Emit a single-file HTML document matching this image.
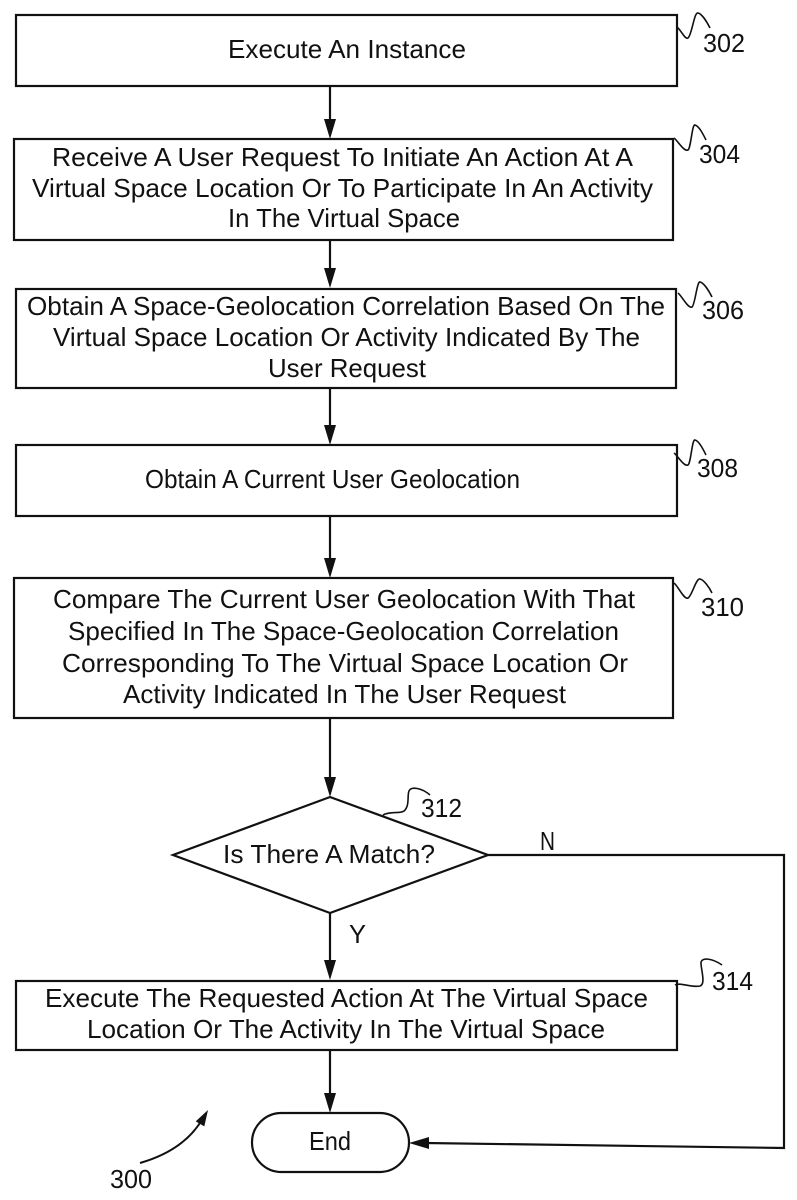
<!DOCTYPE html>
<html>
<head>
<meta charset="utf-8">
<style>
  html, body { margin: 0; padding: 0; background: #fff; }
  svg { display: block; }
  text { font-family: "Liberation Sans", Arial, sans-serif; fill: #111; }
</style>
</head>
<body>
<svg width="797" height="1200" viewBox="0 0 797 1200" xmlns="http://www.w3.org/2000/svg">
  <rect x="0" y="0" width="797" height="1200" fill="#fff"/>
  <g fill="none" stroke="#111" stroke-width="2.2">
    <!-- boxes -->
    <rect x="16" y="15" width="661" height="71"/>
    <rect x="14" y="139" width="659" height="101"/>
    <rect x="16" y="289" width="660" height="99"/>
    <rect x="16" y="445" width="661" height="71"/>
    <rect x="14" y="578" width="659" height="140"/>
    <rect x="16" y="981" width="661" height="69"/>
    <!-- diamond -->
    <polygon points="330,797 488,855 330,913 173,855"/>
    <!-- end terminal -->
    <rect x="252" y="1113" width="157" height="59" rx="29.5" ry="29.5"/>
    <!-- vertical connectors -->
    <line x1="330" y1="86" x2="330" y2="125"/>
    <line x1="330" y1="240" x2="330" y2="274"/>
    <line x1="330" y1="388" x2="330" y2="431"/>
    <line x1="330" y1="516" x2="330" y2="564"/>
    <line x1="330" y1="718" x2="330" y2="783"/>
    <line x1="330" y1="913" x2="330" y2="966"/>
    <line x1="330" y1="1050" x2="330" y2="1099"/>
    <!-- N branch -->
    <polyline points="488,855 784,855 784,1148 425,1143"/>
    <!-- 300 curved arrow -->
    <path d="M140 1163 Q 185 1150 203 1118" stroke-width="2"/>
  </g>
  <g fill="#111" stroke="none">
    <polygon points="324,119 336,119 330,139"/>
    <polygon points="324,268 336,268 330,288"/>
    <polygon points="324,425 336,425 330,445"/>
    <polygon points="324,558 336,558 330,578"/>
    <polygon points="324,777 336,777 330,797"/>
    <polygon points="324,960 336,960 330,980"/>
    <polygon points="324,1093 336,1093 330,1113"/>
    <polygon points="429,1137 429,1149 409,1143"/>
    <polygon points="208,1110 204.3,1126.4 195.7,1121.4"/>
  </g>
  <!-- squiggles -->
  <g fill="none" stroke="#111" stroke-width="1.6">
    <path d="M677 27 C681 30, 685 40, 688 38 C692 35, 694 12, 698 13 C702 14, 707 22, 710 28"/>
    <path d="M674 138 C678 141, 684 152, 688 150 C691 148, 692 124, 695 125 C699 126, 703 134, 706 140"/>
    <path d="M678 293 C682 296, 688 309, 692 307 C695 305, 697 281, 700 282 C704 283, 709 291, 712 297"/>
    <path d="M674 453 C678 456, 684 467, 688 465 C691 463, 692 439, 695 440 C699 441, 703 449, 706 455"/>
    <path d="M674 583 C678 586, 684 600, 688 598 C692 596, 696 578, 700 579 C704 580, 709 587, 712 593"/>
    <path d="M383 815 C390 811, 400 814, 404 811 C410 806, 407 795, 409 791 C411 786, 422 788, 430 795"/>
    <path d="M675 985 C680 982, 692 988, 700 986 C706 984, 701 970, 701 963 C701 957, 712 958, 722 965"/>
  </g>
  <!-- texts -->
  <g font-size="26">
    <text x="228" y="58" textLength="238" lengthAdjust="spacingAndGlyphs">Execute An Instance</text>

    <text x="52" y="166" textLength="581" lengthAdjust="spacingAndGlyphs">Receive A User Request To Initiate An Action At A</text>
    <text x="32" y="197" textLength="621" lengthAdjust="spacingAndGlyphs">Virtual Space Location Or To Participate In An Activity</text>
    <text x="228" y="227" textLength="232" lengthAdjust="spacingAndGlyphs">In The Virtual Space</text>

    <text x="27" y="315" textLength="638" lengthAdjust="spacingAndGlyphs">Obtain A Space-Geolocation Correlation Based On The</text>
    <text x="53" y="346" textLength="587" lengthAdjust="spacingAndGlyphs">Virtual Space Location Or Activity Indicated By The</text>
    <text x="268" y="377" textLength="158" lengthAdjust="spacingAndGlyphs">User Request</text>

    <text x="145" y="488" textLength="375" lengthAdjust="spacingAndGlyphs">Obtain A Current User Geolocation</text>

    <text x="53" y="608" textLength="582" lengthAdjust="spacingAndGlyphs">Compare The Current User Geolocation With That</text>
    <text x="68" y="640" textLength="551" lengthAdjust="spacingAndGlyphs">Specified In The Space-Geolocation Correlation</text>
    <text x="62" y="672" textLength="566" lengthAdjust="spacingAndGlyphs">Corresponding To The Virtual Space Location Or</text>
    <text x="123" y="703" textLength="443" lengthAdjust="spacingAndGlyphs">Activity Indicated In The User Request</text>

    <text x="223" y="863" textLength="212" lengthAdjust="spacingAndGlyphs">Is There A Match?</text>

    <text x="45" y="1007" textLength="603" lengthAdjust="spacingAndGlyphs">Execute The Requested Action At The Virtual Space</text>
    <text x="87" y="1038" textLength="518" lengthAdjust="spacingAndGlyphs">Location Or The Activity In The Virtual Space</text>

    <text x="309" y="1150" textLength="42" lengthAdjust="spacingAndGlyphs">End</text>

    <text x="540" y="850" textLength="15" lengthAdjust="spacingAndGlyphs">N</text>
    <text x="349" y="943" textLength="17" lengthAdjust="spacingAndGlyphs">Y</text>

    <text x="703" y="52" textLength="42" lengthAdjust="spacingAndGlyphs">302</text>
    <text x="699" y="163" textLength="41" lengthAdjust="spacingAndGlyphs">304</text>
    <text x="702" y="319" textLength="42" lengthAdjust="spacingAndGlyphs">306</text>
    <text x="697" y="477" textLength="41" lengthAdjust="spacingAndGlyphs">308</text>
    <text x="701" y="616" textLength="43" lengthAdjust="spacingAndGlyphs">310</text>
    <text x="421" y="817" textLength="41" lengthAdjust="spacingAndGlyphs">312</text>
    <text x="712" y="990" textLength="41" lengthAdjust="spacingAndGlyphs">314</text>
    <text x="110" y="1188" textLength="42" lengthAdjust="spacingAndGlyphs">300</text>
  </g>
</svg>
</body>
</html>
